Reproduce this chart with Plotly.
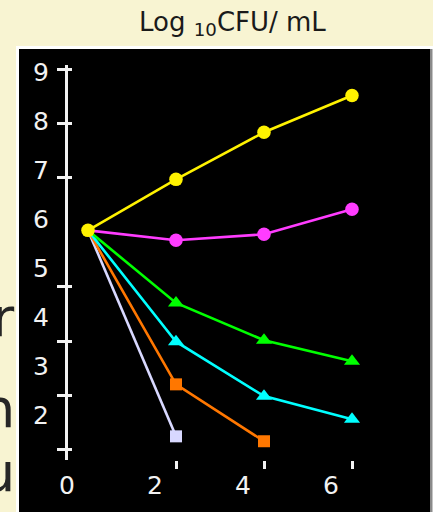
import plotly.graph_objects as go

# ---- data -------------------------------------------------------------
hours = [0, 2, 4, 6]
log_counts_a = [5.77, 6.81, 7.77, 8.52]   # rises steadily
log_counts_b = [5.77, 5.57, 5.69, 6.20]   # roughly flat
log_counts_c = [5.77, 4.29, 3.53, 3.10]
log_counts_d = [5.77, 3.50, 2.39, 1.92]
log_counts_e = [5.77, 2.63, 1.47]
log_counts_f = [5.77, 1.57]

x_tick_values = [0, 2, 4, 6]
x_tick_labels = ["0", "2", "4", "6"]
x_mark_values = [2, 4, 6]
y_tick_values = [2, 3, 4, 5, 6, 7, 8, 9]
y_tick_labels = ["2", "3", "4", "5", "6", "7", "8", "9"]
y_mark_values = [2, 3, 4, 5, 7, 8, 9]

title_text = "Log <sub>10</sub>CFU/ mL"
side_words = ["r", "n", "u"]

# ---- geometry (pixels) ------------------------------------------------
W, H = 433, 512
L, R, T, B = 68, 420, 65, 462          # plot area edges


def fx(px):
    return (px - L) / (R - L)


def fy(py):
    return (B - py) / (B - T)


x0_px, x_unit = 88.0, 44.0              # hour 0 position, px per hour
lab9_px, lab_unit = 72.0, 49.29          # label scale
mark9_px, mark_unit = 69.3, 54.63        # tick-mark scale

x_range = [(L - x0_px) / x_unit, (R - x0_px) / x_unit]
y_range = [9 - (B - lab9_px) / lab_unit, 9 + (lab9_px - T) / lab_unit]
y_mark_range = [9 - (B - mark9_px) / mark_unit, 9 + (mark9_px - T) / mark_unit]

FONT = "DejaVu Sans"
WHITE = "#f2f2f2"

fig = go.Figure()


def add_series(xs, ys, color, symbol, size, mark_first=False):
    # connecting line from the common starting count
    fig.add_trace(go.Scatter(
        x=xs, y=ys, mode="lines",
        line=dict(color=color, width=2.6),
        showlegend=False, hoverinfo="skip", cliponaxis=False,
    ))
    start = 0 if mark_first else 1
    fig.add_trace(go.Scatter(
        x=xs[start:], y=ys[start:], mode="markers",
        marker=dict(color=color, symbol=symbol, size=size, opacity=1,
                    line=dict(width=0)),
        showlegend=False, hoverinfo="skip", cliponaxis=False,
    ))


add_series(hours[:2], log_counts_f, "#d8d8ff", "square", 12)
add_series(hours[:3], log_counts_e, "#ff7700", "square", 12)
add_series(hours, log_counts_d, "#00ffff", "triangle-up", 14)
add_series(hours, log_counts_c, "#00ff00", "triangle-up", 14)
add_series(hours, log_counts_b, "#ff3cff", "circle", 13.5)
add_series(hours, log_counts_a, "#fff200", "circle", 13.5, mark_first=True)

shapes = [
    # framed black panel
    dict(type="rect", xref="paper", yref="paper", layer="below",
         x0=fx(16), x1=fx(433), y0=fy(46), y1=fy(520),
         fillcolor="#ffffff", line=dict(width=0)),
    dict(type="rect", xref="paper", yref="paper", layer="below",
         x0=fx(19), x1=fx(430), y0=fy(49), y1=fy(520),
         fillcolor="#000000", line=dict(width=0)),
    dict(type="rect", xref="paper", yref="paper", layer="below",
         x0=fx(430), x1=fx(432.5), y0=fy(49), y1=fy(520),
         fillcolor="#8a8a8a", line=dict(width=0)),
]

annotations = [
    dict(text=title_text, xref="paper", yref="paper",
         x=fx(232), y=fy(5), xanchor="center", yanchor="top",
         showarrow=False, font=dict(family=FONT, size=26, color="#1a1a1a")),
]
for word, ymid in zip(side_words, [319, 410, 475]):
    annotations.append(dict(
        text=word, xref="paper", yref="paper", x=fx(17), y=fy(ymid),
        xanchor="right", yanchor="middle", showarrow=False,
        font=dict(family=FONT, size=54, color="#262626")))

axis_common = dict(showgrid=False, zeroline=False, fixedrange=True)

fig.update_layout(
    width=W, height=H, autosize=False,
    margin=dict(l=L, r=W - R, t=T, b=H - B, pad=0),
    paper_bgcolor="#f8f4d2",
    plot_bgcolor="rgba(0,0,0,0)",
    shapes=shapes,
    annotations=annotations,
    showlegend=False,
    xaxis=dict(range=x_range, tickmode="array", tickvals=x_mark_values,
               ticks="outside", ticklen=8, tickwidth=2.7, tickcolor=WHITE,
               showticklabels=False, showline=False, **axis_common),
    xaxis2=dict(range=x_range, overlaying="x", anchor="y", side="bottom",
                tickmode="array", tickvals=x_tick_values, ticktext=x_tick_labels,
                ticks="", showline=False, ticklabelshift=-21,
                ticklabelstandoff=8,
                tickfont=dict(family=FONT, size=25, color=WHITE), **axis_common),
    yaxis=dict(range=y_range, tickmode="array", tickvals=y_tick_values,
               ticktext=y_tick_labels, ticks="", showline=False,
               ticklabelstandoff=18,
               tickfont=dict(family=FONT, size=25, color=WHITE), **axis_common),
    yaxis2=dict(range=y_mark_range, overlaying="y", anchor="x", side="left",
                tickmode="array", tickvals=y_mark_values,
                ticks="outside", ticklen=8.5, tickwidth=2.7, tickcolor=WHITE,
                showline=True, linecolor=WHITE, linewidth=2.6,
                showticklabels=False, **axis_common),
    yaxis3=dict(range=y_mark_range, overlaying="y", anchor="x", side="left",
                tickmode="array", tickvals=y_mark_values,
                ticks="inside", ticklen=3.5, tickwidth=2.7, tickcolor=WHITE,
                showline=False, showticklabels=False, **axis_common),
)

# empty traces so the overlay axes are drawn
fig.add_trace(go.Scatter(x=[None], y=[None], xaxis="x2", yaxis="y",
                         showlegend=False, hoverinfo="skip"))
fig.add_trace(go.Scatter(x=[None], y=[None], xaxis="x", yaxis="y2",
                         showlegend=False, hoverinfo="skip"))
fig.add_trace(go.Scatter(x=[None], y=[None], xaxis="x", yaxis="y3",
                         showlegend=False, hoverinfo="skip"))

fig.write_html("out.html", config={"displayModeBar": False})
